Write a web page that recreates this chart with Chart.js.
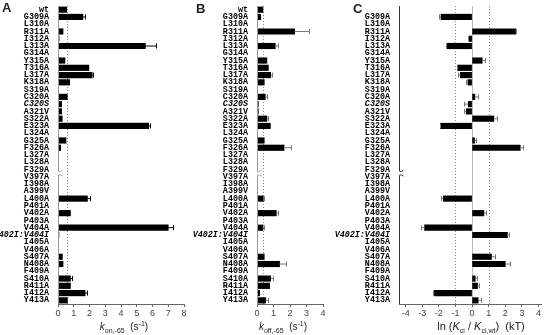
<!DOCTYPE html>
<html>
<head>
<meta charset="utf-8">
<script src="https://cdn.jsdelivr.net/npm/chart.js@4.4.1/dist/chart.umd.min.js"></script>
<style>
  body { margin: 0; background: #fff; }
  #fig { position: relative; width: 544px; height: 335px; overflow: hidden; font-family: "Liberation Sans", Arial, sans-serif; color: #222; }
  #fig canvas { position: absolute; top: 0; }
  .letter { position: absolute; font-weight: bold; font-size: 13px; line-height: 13px; }
  .title { position: absolute; font-size: 10px; line-height: 10px; white-space: nowrap; transform: translateX(-50%); }
  .title sub, .title sup { font-size: 7px; line-height: 0; }
  .title.big { font-size: 11px; line-height: 11px; }
</style>
</head>
<body>
<div id="fig">
  <canvas id="chartA" width="192" height="335" style="left:0"></canvas>
  <canvas id="chartB" width="140" height="335" style="left:190px"></canvas>
  <canvas id="chartC" width="224" height="335" style="left:320px"></canvas>
  <div class="letter" style="left:2px;top:1px">A</div>
  <div class="letter" style="left:196px;top:2px">B</div>
  <div class="letter" style="left:353px;top:2px">C</div>
  <div class="title" style="left:124px;top:322px"><i>k</i><sub>on,-65</sub>&nbsp; (s<sup>-1</sup>)</div>
  <div class="title" style="left:283px;top:322px"><i>k</i><sub>off,-65</sub>&nbsp; (s<sup>-1</sup>)</div>
  <div class="title big" style="left:481px;top:321px">ln (<i>K</i><sub>ci</sub> / <i>K</i><sub>ci,wt</sub>)&nbsp; (kT)</div>
</div>
<script>
var mutants = ['wt', 'G309A', 'L310A', 'R311A', 'I312A', 'L313A', 'G314A', 'Y315A', 'T316A', 'L317A',
  'K318A', 'S319A', 'C320A', 'C320S', 'A321V', 'S322A', 'E323A', 'L324A', 'G325A', 'F326A',
  'L327A', 'L328A', 'F329A',
  'V397A', 'I398A', 'A399V', 'L400A', 'P401A', 'V402A', 'P403A', 'V404A', 'V402I:V404I', 'I405A',
  'V406A', 'S407A', 'N408A', 'F409A', 'S410A', 'R411A', 'I412A', 'Y413A'];
var italicLabels = ['C320S', 'V402I:V404I'];
var lastTopRow = 'F329A'; // axis is broken after this row

// on-rate at -65 mV (1/s)
var kon = [0.55, 1.58, null, 0.32, 0.07, 5.55, null, 0.44, 1.96, 2.17,
  0.74, null, 0.59, 0.23, 0.23, 0.27, 5.76, null, 0.51, 0.17,
  null, null, null,
  null, null, null, 1.87, null, 0.79, null, 7.0, 0.06, null,
  null, 0.28, 0.32, null, 0.79, 0.79, 1.72, 0.6];
var konErr = [null, 0.13, null, null, null, 0.68, null, null, null, 0.07,
  null, null, null, null, null, null, 0.11, null, null, null,
  null, null, null,
  null, null, null, 0.19, null, null, null, 0.3, null, null,
  null, null, null, null, 0.1, null, 0.12, null];

// off-rate at -65 mV (1/s)
var koff = [0.36, 0.22, null, 2.28, 0.03, 1.11, null, 0.6, 0.69, 0.83,
  0.44, null, 0.5, 0.08, 0.08, 0.6, 0.81, null, 0.44, 1.64,
  null, null, null,
  null, null, null, 0.38, null, 1.17, null, 0.36, 0.03, null,
  null, 0.44, 1.37, null, 0.83, 0.77, 0.16, 0.53];
var koffErr = [null, null, null, 0.87, null, 0.16, null, null, null, 0.1,
  null, null, 0.09, null, null, 0.09, null, null, null, 0.44,
  null, null, null,
  null, null, null, 0.04, null, 0.12, null, 0.04, null, null,
  null, null, 0.37, null, 0.12, null, null, 0.14];

// ln(Kci / Kci,wt) in kT
var lnK = [null, -1.87, null, 2.62, -0.17, -1.51, null, 0.61, -0.89, -0.71,
  -0.25, null, 0.17, -0.23, -0.35, 1.31, -1.91, null, 0.15, 2.9,
  null, null, null,
  null, null, null, -1.73, null, 0.71, null, -2.86, 2.13, null,
  null, 1.17, 2.0, null, 0.19, 0.33, -2.27, 0.37];
var lnKErr = [null, 0.12, null, 0.04, 0.1, 0.06, null, 0.16, 0.03, 0.12,
  0.1, null, 0.16, 0.28, 0.16, 0.22, 0.03, null, 0.1, 0.14,
  null, null, null,
  null, null, null, 0.16, null, 0.1, null, 0.2, 0.07, null,
  null, 0.2, 0.27, null, 0.12, 0.08, 0.1, 0.14];

var konTicks = [0, 1, 2, 3, 4, 5, 6, 7, 8];
var koffTicks = [0, 1, 2, 3, 4];
var lnKTicks = [-4, -3, -2, -1, 0, 1, 2, 3, 4];

// reference lines, error bars and the broken y axis
var panelDecor = {
  id: 'panelDecor',
  beforeDatasetsDraw: function(chart, args, o) {
    var ctx = chart.ctx, xs = chart.scales.x, a = chart.chartArea;
    ctx.save();
    ctx.lineWidth = 1;
    if (o.zeroLine) {
      ctx.strokeStyle = '#bbb';
      var z = Math.round(xs.getPixelForValue(0)) + 0.5;
      ctx.beginPath(); ctx.moveTo(z, a.top); ctx.lineTo(z, a.bottom); ctx.stroke();
    }
    ctx.strokeStyle = '#888';
    ctx.setLineDash([1, 2]);
    o.dotted.forEach(function(v) {
      var px = Math.round(xs.getPixelForValue(v)) + 0.5;
      ctx.beginPath(); ctx.moveTo(px, a.top); ctx.lineTo(px, a.bottom); ctx.stroke();
    });
    ctx.restore();
  },
  afterDatasetsDraw: function(chart, args, o) {
    var ctx = chart.ctx, xs = chart.scales.x, ys = chart.scales.y;
    var vals = chart.data.datasets[0].data;
    ctx.save();
    ctx.strokeStyle = o.errColor;
    ctx.lineWidth = 1;
    o.errors.forEach(function(e, i) {
      if (e == null || vals[i] == null) return;
      var v = vals[i];
      var end = v + (v < 0 ? -e : e);
      var y = ys.getPixelForValue(i);
      var x0 = xs.getPixelForValue(v), x1 = Math.round(xs.getPixelForValue(end)) + 0.5;
      ctx.beginPath();
      ctx.moveTo(x0, y); ctx.lineTo(x1, y);
      ctx.moveTo(x1, y - 2.5); ctx.lineTo(x1, y + 2.5);
      ctx.stroke();
    });
    ctx.restore();
  },
  afterDraw: function(chart, args, o) {
    var ctx = chart.ctx, ys = chart.scales.y, a = chart.chartArea;
    var k = mutants.indexOf(lastTopRow);
    var yb = (ys.getPixelForValue(k) + ys.getPixelForValue(k + 1)) / 2;
    var x = Math.round(a.left) + 0.5;
    ctx.save();
    ctx.strokeStyle = o.axisColor;
    ctx.lineWidth = 1;
    ctx.beginPath();
    ctx.moveTo(x, a.top); ctx.lineTo(x, yb - 2);
    ctx.quadraticCurveTo(x + 2, yb - 1, x + 4, yb - 3);
    ctx.moveTo(x, a.bottom); ctx.lineTo(x, yb + 2);
    ctx.quadraticCurveTo(x + 2, yb + 1, x + 4, yb + 3);
    ctx.stroke();
    ctx.restore();
  }
};

function labelFont(c) {
  var lbl = mutants[c.index];
  return {
    family: '"Liberation Mono", "Courier New", monospace',
    size: 8.4,
    weight: 'bold',
    style: italicLabels.indexOf(lbl) >= 0 ? 'italic' : 'normal'
  };
}

function makePanel(id, values, errors, o) {
  return new Chart(document.getElementById(id), {
    type: 'bar',
    data: {
      labels: mutants,
      datasets: [{ data: values, backgroundColor: '#000', borderWidth: 0, barThickness: 5.5 }]
    },
    options: {
      indexAxis: 'y',
      responsive: false,
      animation: false,
      layout: { padding: { top: 0, right: o.padRight, bottom: 0, left: 0 } },
      plugins: {
        legend: { display: false },
        tooltip: { enabled: false },
        panelDecor: { dotted: o.dotted, zeroLine: o.zeroLine, errors: errors, errColor: o.errColor, axisColor: o.axisColor }
      },
      scales: {
        x: {
          type: 'linear',
          min: o.min,
          max: o.max,
          afterFit: function(s) { s.height = 31; },
          afterBuildTicks: function(s) { s.ticks = o.ticks.map(function(v) { return { value: v }; }); },
          ticks: { autoSkip: false, maxRotation: 0, padding: 1, color: '#444', font: { family: '"Liberation Sans", Arial, sans-serif', size: 9 } },
          grid: { drawOnChartArea: false, tickLength: 3, color: '#666' },
          border: { color: '#666' }
        },
        y: {
          afterFit: function(s) { s.width = o.labelWidth; },
          ticks: {
            autoSkip: false,
            padding: 1,
            color: '#000',
            font: labelFont,
            callback: function(v) { return o.hideWt && v === 0 ? '' : mutants[v]; }
          },
          grid: { display: false },
          border: { display: false }
        }
      }
    },
    plugins: [panelDecor]
  });
}

makePanel('chartA', kon, konErr, {
  min: 0, max: 8, ticks: konTicks, labelWidth: 58, padRight: 8,
  dotted: [kon[0]], zeroLine: false, errColor: '#000', axisColor: '#999'
});
makePanel('chartB', koff, koffErr, {
  min: 0, max: 4, ticks: koffTicks, labelWidth: 67, padRight: 7,
  dotted: [koff[0]], zeroLine: false, errColor: '#777', axisColor: '#999'
});
makePanel('chartC', lnK, lnKErr, {
  min: -4.4, max: 4.15, ticks: lnKTicks, labelWidth: 79, padRight: 3,
  dotted: [-1, 1], zeroLine: true, errColor: '#777', axisColor: '#333', hideWt: true
});
</script>
</body>
</html>
